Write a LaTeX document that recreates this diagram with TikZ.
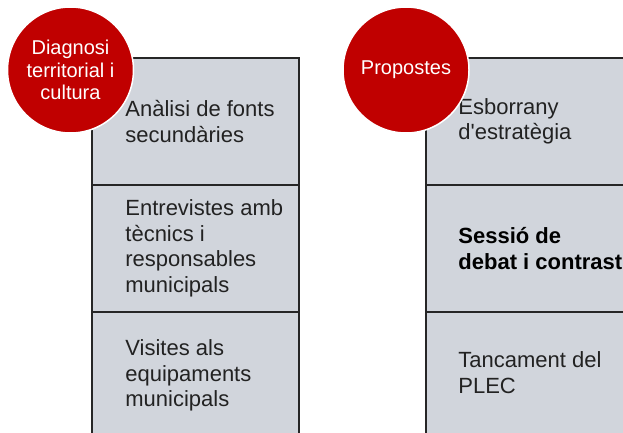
\documentclass[tikz,border=0pt]{standalone}
\usepackage{fontspec}
\setmainfont{Liberation Sans}
\usetikzlibrary{positioning}
\definecolor{phasered}{HTML}{C00000}
\definecolor{rowgray}{HTML}{D1D5DC}
\definecolor{inkgray}{HTML}{222222}

\begin{document}
\begin{tikzpicture}[
  x=1pt,y=-1pt,
  row/.style={draw=black!85,line width=1.6pt,fill=rowgray,
    minimum width=207pt,minimum height=127pt,inner sep=0pt},
  rowtext/.style={inner sep=0pt,align=left,text=inkgray,
    font=\fontsize{22}{25.5}\selectfont},
  phase/.style={circle,fill=phasered,draw=white,line width=1.5pt,
    minimum size=126pt,inner sep=0pt,text=white,align=center,
    font=\fontsize{20}{22.5}\selectfont}]
  \clip (0,0) rectangle (623,432);
  \useasboundingbox (0,0) rectangle (623,432);

  \foreach \col/\x in {l/195.5,r/529.5}
    \foreach \i/\y in {1/121.5,2/248.5,3/375.5}
      \node[row] (\col\i) at (\x,\y) {};

  \node[rowtext,right=34pt of l1.west] (tl1) {Anàlisi de fonts\\secundàries};
  \node[rowtext,right=34pt of l2.west] (tl2)
    {Entrevistes amb\\tècnics i\\responsables\\municipals};
  \node[rowtext,right=34pt of l3.west] (tl3)
    {Visites als\\equipaments\\municipals};

  \node[rowtext,right=33pt of r1.west] (tr1) {Esborrany\\d\textquotesingle estratègia};
  \node[rowtext,right=33pt of r2.west,text=black,font=\fontsize{22}{25.5}\selectfont\bfseries] (tr2)
    {Sessió de\\debat i contrast};
  \node[rowtext,right=33pt of r3.west,yshift=3pt] (tr3) {Tancament del\\PLEC};

  \node[phase] (diag) at (70.5,70) {Diagnosi\\territorial i\\cultura};
  \node[phase] (prop) at (406,70) {Propostes};
\end{tikzpicture}
\end{document}
